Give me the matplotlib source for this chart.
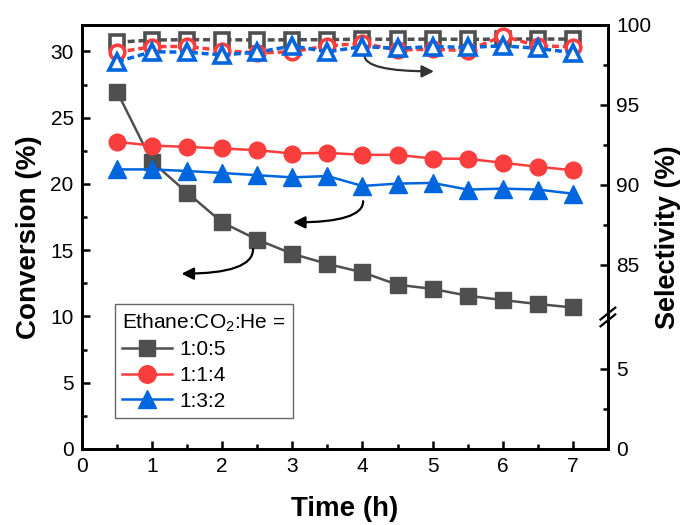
import numpy as np
import matplotlib
matplotlib.use("Agg")
import matplotlib.pyplot as plt
from matplotlib.ticker import FixedLocator, MultipleLocator, FormatStrFormatter

plt.rcParams['font.family'] = ['Liberation Sans', 'DejaVu Sans']

# time on stream (h)
time_h = [0.5, 1, 1.5, 2, 2.5, 3, 3.5, 4, 4.5, 5, 5.5, 6, 6.5, 7]

# conversion (%), left axis
conv_105 = [26.97, 21.67, 19.35, 17.1, 15.8, 14.73, 13.97, 13.33, 12.4, 12.08, 11.57, 11.24, 10.94, 10.68]
conv_114 = [23.18, 22.9, 22.8, 22.68, 22.55, 22.3, 22.35, 22.2, 22.2, 21.92, 21.9, 21.6, 21.3, 21.04]
conv_132 = [21.1, 21.1, 20.98, 20.83, 20.66, 20.5, 20.6, 19.85, 20.03, 20.08, 19.58, 19.65, 19.58, 19.27]

# selectivity (%), right axis
sel_105 = [98.92, 99.06, 99.08, 99.08, 99.06, 99.08, 99.08, 99.12, 99.1, 99.12, 99.1, 99.12, 99.12, 99.12]
sel_114 = [98.29, 98.65, 98.66, 98.4, 98.25, 98.33, 98.7, 98.85, 98.44, 98.48, 98.4, 99.31, 98.69, 98.65]
sel_132 = [97.7, 98.33, 98.3, 98.13, 98.3, 98.69, 98.33, 98.65, 98.54, 98.65, 98.6, 98.7, 98.54, 98.27]

labels = ['1:0:5', '1:1:4', '1:3:2']
colors = ['#4f4f4f', '#fa3e3e', '#0066dd']
markers = ['s', 'o', '^']
msizes = [11, 12, 12.5]

# broken right axis: 0-8.25 and 81.75-100
GAP = 73.5
BRK = 8.25


def fwd(s):
    s = np.asarray(s, dtype=float)
    return np.where(s <= 45, s, s - GAP)


def inv(y):
    y = np.asarray(y, dtype=float)
    return np.where(y <= BRK, y, y + GAP)


fig = plt.figure(figsize=(6.83, 5.25), dpi=100)
ax = fig.add_axes([0.120, 0.1448, 0.770, 0.8076])
ax2 = ax.twinx()

convs = [conv_105, conv_114, conv_132]
sels = [sel_105, sel_114, sel_132]
for i in range(3):
    ax.plot(time_h, convs[i], color=colors[i], marker=markers[i], ms=msizes[i],
            lw=1.8, label=labels[i], zorder=3 + i)
    ax2.plot(time_h, sels[i], color=colors[i], marker=markers[i], ms=msizes[i] - 1.5,
             mfc='white', mew=2.6, lw=2.5, ls=(0, (2.0, 1.1)), zorder=3 + i)

ax.set_xlim(0, 7.5)
ax.set_ylim(0, 32)
ax.xaxis.set_major_locator(MultipleLocator(1))
ax.xaxis.set_minor_locator(MultipleLocator(0.5))
ax.yaxis.set_major_locator(MultipleLocator(5))
ax.yaxis.set_minor_locator(MultipleLocator(2.5))

ax2.set_yscale('function', functions=(fwd, inv))
ax2.set_ylim(0, 100)
ax2.yaxis.set_major_locator(FixedLocator([0, 5, 85, 90, 95, 100]))
ax2.yaxis.set_minor_locator(FixedLocator([2.5, 87.5, 92.5, 97.5]))
ax2.yaxis.set_major_formatter(FormatStrFormatter('%d'))

for a in (ax, ax2):
    for sp in a.spines.values():
        sp.set_linewidth(2)
    a.tick_params(which='both', direction='in', width=1.8, labelsize=15, pad=6)
    a.tick_params(which='major', length=6)
    a.tick_params(which='minor', length=3.5)

ax.set_xlabel('Time (h)', fontsize=20, fontweight='bold', labelpad=14)
ax.set_ylabel('Conversion (%)', fontsize=20, fontweight='bold', labelpad=6)
ax2.set_ylabel('Selectivity (%)', fontsize=19.5, fontweight='bold', labelpad=3)

# break mark on the right spine
yb = BRK / (100 - GAP)
for off in (-0.008, 0.008):
    ax.plot([1 - 0.014, 1 + 0.014], [yb + off - 0.014, yb + off + 0.014],
            transform=ax.transAxes, color='black', lw=1.6, clip_on=False, zorder=10)

# curved arrows
arrow_kw = dict(arrowstyle='-|>', connectionstyle='angle3,angleA=90,angleB=0',
                lw=1.6, mutation_scale=18, shrinkA=0, shrinkB=0)
ax.annotate('', xy=(5.02, 28.5), xytext=(4.03, 29.7),
            arrowprops=dict(color='#333333', **arrow_kw))
ax.annotate('', xy=(3.01, 17.1), xytext=(4.01, 18.7),
            arrowprops=dict(color='black', **arrow_kw))
ax.annotate('', xy=(1.42, 13.23), xytext=(2.44, 15.08),
            arrowprops=dict(color='black', **arrow_kw))

leg = ax.legend(title=r'Ethane:CO$_{\mathregular{2}}$:He =', loc='lower left',
                bbox_to_anchor=(0.063, 0.073), borderaxespad=0, fontsize=15,
                title_fontsize=15, fancybox=False, edgecolor='#666666',
                handlelength=2.4, handletextpad=0.35, labelspacing=0.32,
                borderpad=0.35, framealpha=1, markerscale=1.05)
leg._legend_box.align = 'left'
leg.get_frame().set_linewidth(1.0)

fig.savefig('out.png', dpi=100)
